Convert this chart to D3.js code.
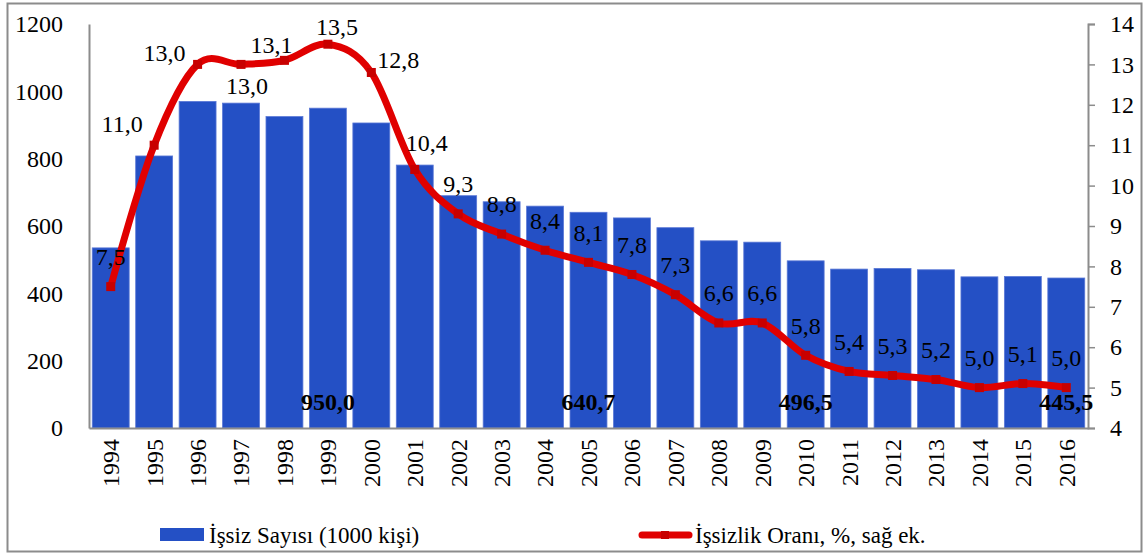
<!DOCTYPE html>
<html>
<head>
<meta charset="utf-8">
<style>
  body {
    margin: 0;
    background-color: #fff;
  }

  svg text {
    font-family: 'Liberation Serif', serif;
    fill: #000;
  }
</style>
  <script src="https://d3js.org/d3.v7.min.js"></script>
</head>
<body>
<script>
// unemployment count (bars, left axis) and rate (line, right axis), 1994-2016

const years = ['1994', '1995', '1996', '1997', '1998', '1999', '2000', '2001', '2002', '2003', '2004', '2005',
  '2006', '2007', '2008', '2009', '2010', '2011', '2012', '2013', '2014', '2015', '2016'];

// İşsiz Sayısı (1000 kişi)
const unemployed = [535, 808, 970, 965, 925, 950.0, 906, 781, 690, 672, 659, 640.7,
  624, 595, 556, 552, 496.5, 472, 474, 470, 449, 450, 445.5];

// İşsizlik Oranı, %
const rate = [7.5, 11.0, 13.0, 13.0, 13.1, 13.5, 12.8, 10.4, 9.3, 8.8, 8.4, 8.1,
  7.8, 7.3, 6.6, 6.6, 5.8, 5.4, 5.3, 5.2, 5.0, 5.1, 5.0];

// the bold values printed near the bottom of some bars
const calloutYears = ['1999', '2005', '2010', '2016'];

const leftTicks = [0, 200, 400, 600, 800, 1000, 1200];
const rightTicks = [4, 5, 6, 7, 8, 9, 10, 11, 12, 13, 14];

const W = 1148, H = 556;
const plot = { left: 89, right: 1088, top: 24, bottom: 428 };
const serif = "'Liberation Serif', serif";

const blue = '#2450c5';
const red = '#e00000';
const axisGrey = '#8c8c8c';

// rate labels sit 30px over their point, except where excel moved them around
const labelShift = {
  '1995': [-32, -22],
  '1996': [-33, -12],
  '1997': [6, 21],
  '1998': [-13, -16],
  '1999': [9, -18],
  '2000': [27, -13],
  '2001': [12, -27],
};

const svg = d3.select('body')
  .append('svg')
  .attr('width', W)
  .attr('height', H)
  .attr('font-family', serif);

// outer frame
svg.append('rect')
  .attr('x', 7.5)
  .attr('y', 3.5)
  .attr('width', 1134)
  .attr('height', 548)
  .attr('fill', 'none')
  .attr('stroke', axisGrey)
  .attr('stroke-width', 2);

const x = d3.scaleBand()
  .domain(years)
  .range([plot.left, plot.right])
  .paddingInner(0.15)
  .paddingOuter(0.075);

const yLeft = d3.scaleLinear()
  .domain([0, 1200])
  .range([plot.bottom, plot.top]);

const yRight = d3.scaleLinear()
  .domain([4, 14])
  .range([plot.bottom, plot.top]);

const cx = d => x(d) + x.bandwidth() / 2;

// bars
svg.append('g')
  .selectAll('rect')
  .data(years)
  .join('rect')
  .attr('x', d => x(d))
  .attr('y', (d, i) => yLeft(unemployed[i]))
  .attr('width', x.bandwidth())
  .attr('height', (d, i) => plot.bottom - yLeft(unemployed[i]))
  .attr('fill', blue)
  .attr('stroke', '#5a78d6')
  .attr('stroke-width', 0.8);

// left axis, no tick marks
const leftAxis = svg.append('g')
  .attr('transform', `translate(${plot.left},0)`)
  .call(d3.axisLeft(yLeft).tickValues(leftTicks).tickFormat(d3.format('d')).tickSize(0).tickPadding(26));
leftAxis.attr('font-family', serif);
leftAxis.select('.domain').attr('stroke', axisGrey).attr('stroke-width', 2);
leftAxis.selectAll('text').attr('font-size', 24);

// right axis
const rightAxis = svg.append('g')
  .attr('transform', `translate(${plot.right},0)`)
  .call(d3.axisRight(yRight).tickValues(rightTicks).tickSize(7).tickSizeOuter(7).tickPadding(15));
rightAxis.attr('font-family', serif);
rightAxis.select('.domain').attr('stroke', axisGrey).attr('stroke-width', 2);
rightAxis.selectAll('line').attr('stroke', axisGrey).attr('stroke-width', 1.5);
rightAxis.selectAll('text').attr('font-size', 24);

// category axis
const bottomAxis = svg.append('g')
  .attr('transform', `translate(0,${plot.bottom})`)
  .call(d3.axisBottom(x).tickSize(0).tickSizeOuter(0).tickPadding(0));
bottomAxis.attr('font-family', serif);
bottomAxis.select('.domain').attr('stroke', axisGrey).attr('stroke-width', 2);
bottomAxis.selectAll('text')
  .attr('font-size', 24)
  .attr('text-anchor', 'end')
  .attr('transform', 'translate(0,11) rotate(-90)')
  .attr('x', 0)
  .attr('y', 0)
  .attr('dy', '0.35em');

// rate line
const line = d3.line()
  .x((d, i) => cx(years[i]))
  .y(d => yRight(d))
  .curve(d3.curveCatmullRom.alpha(0));

svg.append('path')
  .datum(rate)
  .attr('d', line)
  .attr('fill', 'none')
  .attr('stroke', red)
  .attr('stroke-width', 7)
  .attr('stroke-linejoin', 'round')
  .attr('stroke-linecap', 'round');

svg.append('g')
  .selectAll('rect')
  .data(rate)
  .join('rect')
  .attr('x', (d, i) => cx(years[i]) - 4.5)
  .attr('y', d => yRight(d) - 4.5)
  .attr('width', 9)
  .attr('height', 9)
  .attr('fill', '#c80000');

const fmt = v => d3.format('.1f')(v).replace('.', ',');

// rate labels
svg.append('g')
  .selectAll('text')
  .data(rate)
  .join('text')
  .attr('x', (d, i) => cx(years[i]) + (labelShift[years[i]] || [0, -30])[0])
  .attr('y', (d, i) => yRight(d) + (labelShift[years[i]] || [0, -30])[1])
  .attr('dy', '0.35em')
  .attr('text-anchor', 'middle')
  .attr('font-size', 24)
  .text(d => fmt(d));

// bold count callouts
svg.append('g')
  .selectAll('text')
  .data(calloutYears)
  .join('text')
  .attr('x', d => cx(d))
  .attr('y', 402)
  .attr('dy', '0.35em')
  .attr('text-anchor', 'middle')
  .attr('font-size', 24)
  .attr('font-weight', 'bold')
  .text(d => fmt(unemployed[years.indexOf(d)]));

// legend
const legend = svg.append('g');
legend.append('rect')
  .attr('x', 160)
  .attr('y', 528)
  .attr('width', 44)
  .attr('height', 13)
  .attr('fill', blue);
legend.append('text')
  .attr('x', 209)
  .attr('y', 543)
  .attr('font-size', 23)
  .text('İşsiz Sayısı (1000 kişi)');

legend.append('line')
  .attr('x1', 642)
  .attr('x2', 689)
  .attr('y1', 535)
  .attr('y2', 535)
  .attr('stroke', red)
  .attr('stroke-width', 7)
  .attr('stroke-linecap', 'round');
legend.append('rect')
  .attr('x', 661)
  .attr('y', 531)
  .attr('width', 8)
  .attr('height', 8)
  .attr('fill', '#c80000');
legend.append('text')
  .attr('x', 695)
  .attr('y', 543)
  .attr('font-size', 23)
  .text('İşsizlik Oranı, %, sağ ek.');
</script>
</body>
</html>
